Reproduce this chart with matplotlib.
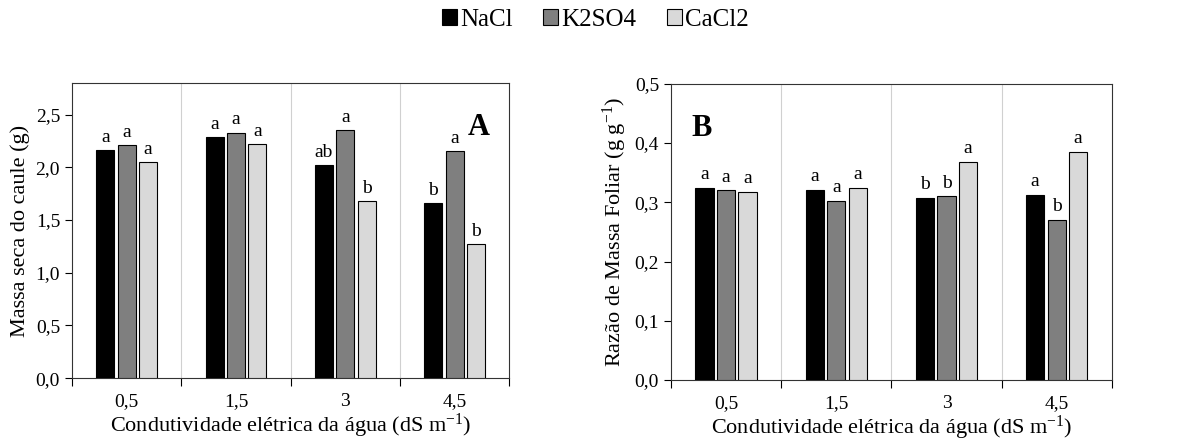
import numpy as np
import matplotlib.pyplot as plt
from matplotlib.patches import Patch

plt.rcParams['font.family'] = ['Liberation Serif', 'DejaVu Serif']
plt.rcParams['mathtext.fontset'] = 'custom'
plt.rcParams['mathtext.rm'] = 'Liberation Serif'
plt.rcParams['mathtext.it'] = 'Liberation Serif:italic'

# Data
ce_labels = ['0,5', '1,5', '3', '4,5']
salts = ['NaCl', 'K2SO4', 'CaCl2']
colors = ['#000000', '#7f7f7f', '#d9d9d9']

# Panel A - Massa seca do caule (g)
caule_nacl = [2.16, 2.29, 2.02, 1.66]
caule_k2so4 = [2.21, 2.33, 2.35, 2.15]
caule_cacl2 = [2.05, 2.22, 1.68, 1.27]
caule_letters = [['a', 'a', 'ab', 'b'], ['a', 'a', 'a', 'a'], ['a', 'a', 'b', 'b']]

# Panel B - Razao de massa foliar (g g-1)
rmf_nacl = [0.324, 0.321, 0.308, 0.312]
rmf_k2so4 = [0.320, 0.303, 0.310, 0.270]
rmf_cacl2 = [0.318, 0.324, 0.368, 0.385]
rmf_letters = [['a', 'a', 'b', 'a'], ['a', 'a', 'b', 'b'], ['a', 'a', 'a', 'a']]


def plot_panel(ax, series, letters, ymax, ystep, ylabel, tag, tag_x, off):
    x = np.arange(len(ce_labels))
    step = 0.195
    width = 0.165
    for i, vals in enumerate(series):
        pos = x + (i - 1) * step
        ax.bar(pos, vals, width, color=colors[i], edgecolor='black', linewidth=0.8, zorder=3)
        for p, v, l in zip(pos, vals, letters[i]):
            ax.text(p, v + off, l, ha='center', va='bottom', fontsize=14)
    ax.set_xlim(-0.5, len(ce_labels) - 0.5)
    ax.set_ylim(0, ymax)
    yt = np.arange(0, ymax + 1e-9, ystep)
    ax.set_yticks(yt)
    ax.set_yticklabels(['{:.1f}'.format(t).replace('.', ',') for t in yt], fontsize=14)
    ax.set_xticks(np.arange(-0.5, len(ce_labels)), minor=False)
    ax.set_xticklabels([])
    ax.set_xticks(x, minor=True)
    ax.set_xticklabels(ce_labels, minor=True, fontsize=14)
    ax.tick_params(axis='x', which='minor', length=0, pad=11)
    ax.tick_params(axis='x', which='major', direction='out', length=6)
    ax.tick_params(axis='y', direction='out', length=5)
    for b in np.arange(0.5, len(ce_labels) - 1):
        ax.axvline(b, color='#d0d0d0', linewidth=0.8, zorder=1)
    for s in ax.spines.values():
        s.set_linewidth(0.8)
        s.set_color('#333333')
    ax.set_ylabel(ylabel, fontsize=16)
    ax.set_xlabel('Condutividade elétrica da água (dS m$^{-1}$)', fontsize=16, labelpad=1)
    ax.text(tag_x, 0.85, tag, transform=ax.transAxes, fontsize=22, fontweight='bold',
            ha='center', va='center')


fig = plt.figure(figsize=(11.79, 4.46), dpi=100)
axA = fig.add_axes([0.061, 0.152, 0.371, 0.662])
axB = fig.add_axes([0.569, 0.148, 0.374, 0.664])

plot_panel(axA, [caule_nacl, caule_k2so4, caule_cacl2], caule_letters, 2.8, 0.5,
           'Massa seca do caule (g)', 'A', 0.93, 0.04)
plot_panel(axB, [rmf_nacl, rmf_k2so4, rmf_cacl2], rmf_letters, 0.5, 0.1,
           'Razão de Massa Foliar (g g$^{-1}$)', 'B', 0.07, 0.008)

handles = [Patch(facecolor=c, edgecolor='black', linewidth=0.8) for c in colors]
fig.legend(handles, salts, loc='center', bbox_to_anchor=(0.505, 0.955), ncol=3,
           frameon=False, fontsize=18, handlelength=0.6, handleheight=0.6,
           handletextpad=0.15, columnspacing=1.2)

fig.savefig('out.png', dpi=100)
